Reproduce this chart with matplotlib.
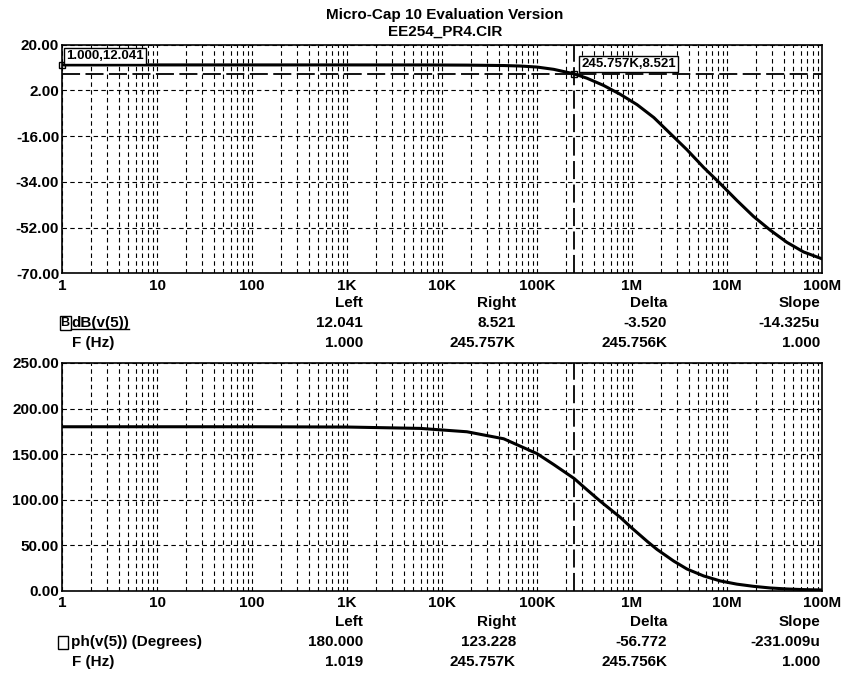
import matplotlib
matplotlib.use('Agg')
import matplotlib.pyplot as plt
from matplotlib.patches import Rectangle
from matplotlib.ticker import FixedLocator, FixedFormatter, LogLocator, NullFormatter

# magnitude trace dB(v(5))
freq_db = [1, 10, 100, 1e3, 5.9e3, 18.3e3, 44.6e3, 67e3, 100e3, 150e3, 245.757e3, 336e3, 500e3,
           750e3, 1.13e6, 1.7e6, 2.5e6, 3.8e6, 5.7e6, 8.5e6, 12.7e6, 19e6, 28.5e6, 42.7e6, 64e6, 100e6]
mag_db = [12.041, 12.041, 12.041, 12.04, 12.03, 11.96, 11.8, 11.6, 11.2, 10.3, 8.521, 6.8, 4.0,
          0.5, -3.6, -8.7, -14.8, -21.4, -28.4, -34.7, -41.3, -47.6, -53.0, -57.8, -61.6, -64.3]

# phase trace ph(v(5))
freq_ph = [1, 10, 100, 1e3, 5.9e3, 18.3e3, 44.6e3, 100e3, 150e3, 245.757e3, 336e3, 464e3, 753e3,
           958e3, 1.44e6, 1.83e6, 2.75e6, 3.79e6, 5.68e6, 8.5e6, 12.7e6, 19e6, 28.5e6, 42.7e6, 64e6, 100e6]
phase_deg = [180.0, 180.0, 180.0, 179.7, 178.2, 174.5, 166.8, 150.5, 138.5, 123.228, 110.8, 98.2, 80.5,
             70.4, 54.3, 45.4, 32.5, 23.8, 16.2, 10.7, 7.2, 4.8, 3.0, 1.9, 1.2, 0.8]

x_ticks = [1, 10, 100, 1e3, 1e4, 1e5, 1e6, 1e7, 1e8]
x_labels = ['1', '10', '100', '1K', '10K', '100K', '1M', '10M', '100M']
db_ticks = [20, 2, -16, -34, -52, -70]
ph_ticks = [250, 200, 150, 100, 50, 0]

cursor_left = 1.0
cursor_right = 245.757e3
left_db = 12.041
right_db = 8.521

table_head = ['Left', 'Right', 'Delta', 'Slope']
db_values = ['12.041', '8.521', '-3.520', '-14.325u']
db_freqs = ['1.000', '245.757K', '245.756K', '1.000']
ph_values = ['180.000', '123.228', '-56.772', '-231.009u']
ph_freqs = ['1.019', '245.757K', '245.756K', '1.000']

W, H = 842, 675
plt.rcParams['font.family'] = ['Liberation Sans', 'DejaVu Sans']
plt.rcParams['font.weight'] = 'bold'
plt.rcParams['font.size'] = 11


def fx(x):
    return x / W


def fy(y):
    return 1 - y / H


def __draw_axes(fig, top, bottom, ylim, yticks):
    ax = fig.add_axes([fx(62), fy(bottom), fx(822) - fx(62), fy(top) - fy(bottom)])
    ax.set_xscale('log')
    ax.set_xlim(1, 1e8)
    ax.set_ylim(*ylim)
    ax.xaxis.set_major_locator(FixedLocator(x_ticks))
    ax.xaxis.set_major_formatter(FixedFormatter(x_labels))
    ax.xaxis.set_minor_locator(LogLocator(base=10, subs=range(2, 10), numticks=20))
    ax.xaxis.set_minor_formatter(NullFormatter())
    ax.yaxis.set_major_locator(FixedLocator(yticks))
    ax.set_yticklabels(['%.2f' % v for v in yticks])
    ax.tick_params(which='both', length=0)
    ax.tick_params(axis='x', pad=4)
    ax.tick_params(axis='y', pad=2)
    ax.grid(True, which='both', color='black', lw=0.8, linestyle=(0, (4, 3)))
    for s in ax.spines.values():
        s.set_linewidth(1.2)
    return ax


def __draw_table(fig, y0, label, values, freqs, boxed):
    cols = [363, 516, 667, 820]
    for x, t in zip(cols, table_head):
        fig.text(fx(x), fy(y0), t, ha='right', va='center')
    for x, t in zip(cols, values):
        fig.text(fx(x), fy(y0 + 20), t, ha='right', va='center')
    for x, t in zip(cols, freqs):
        fig.text(fx(x), fy(y0 + 40), t, ha='right', va='center')
    if boxed:
        fig.text(fx(60.5), fy(y0 + 20), 'B', ha='left', va='center', fontsize=9,
                 bbox=dict(boxstyle='square,pad=0.08', fc='none', ec='black', lw=1))
    else:
        fig.add_artist(Rectangle((fx(58), fy(y0 + 27)), fx(10), 13 / H, fill=False,
                                 ec='black', lw=1, transform=fig.transFigure))
    lbl = fig.text(fx(71), fy(y0 + 20), label, ha='left', va='center')
    fig.text(fx(72), fy(y0 + 40), 'F (Hz)', ha='left', va='center')
    return lbl


fig = plt.figure(figsize=(W / 100, H / 100), dpi=100)
fig.patch.set_facecolor('white')

fig.text(fx(445), fy(15.5), 'Micro-Cap 10 Evaluation Version', ha='center', va='center')
fig.text(fx(445), fy(31.5), 'EE254_PR4.CIR', ha='center', va='center')

# magnitude plot
ax1 = __draw_axes(fig, 44.7, 273.3, (-70, 20), db_ticks)
ax1.plot(freq_db, mag_db, color='black', lw=2.2, zorder=5)
cur = dict(color='black', lw=1.3, linestyle=(0, (10, 3)), zorder=4)
ax1.axvline(cursor_right, **cur)
ax1.axhline(right_db, **cur)
ax1.plot([cursor_left, cursor_right], [left_db, right_db], 's', ms=5, mfc='none', mec='black',
         mew=1, clip_on=False, zorder=6)
box = dict(boxstyle='square,pad=0.15', fc='white', ec='black', lw=1)
ax1.annotate('1.000,12.041', (cursor_left, left_db), xytext=(4, 3), textcoords='offset pixels',
             ha='left', va='bottom', bbox=box, fontsize=9.5, zorder=7)
ax1.annotate('245.757K,8.521', (cursor_right, right_db), xytext=(7, 4), textcoords='offset pixels',
             ha='left', va='bottom', bbox=box, fontsize=9.5, zorder=7)

# phase plot
ax2 = __draw_axes(fig, 363.0, 590.7, (0, 250), ph_ticks)
ax2.plot(freq_ph, phase_deg, color='black', lw=2.2, zorder=5)
ax2.axvline(cursor_right, **cur)

lbl = __draw_table(fig, 303.3, 'dB(v(5))', db_values, db_freqs, True)
__draw_table(fig, 621.7, 'ph(v(5)) (Degrees)', ph_values, ph_freqs, False)

# underline under the active trace name
fig.canvas.draw()
bb = lbl.get_window_extent()
fig.add_artist(plt.Line2D([bb.x0 / W, bb.x1 / W], [(bb.y0 + 1) / H, (bb.y0 + 1) / H],
                          color='black', lw=1, transform=fig.transFigure))

fig.savefig('out.png', dpi=100)
